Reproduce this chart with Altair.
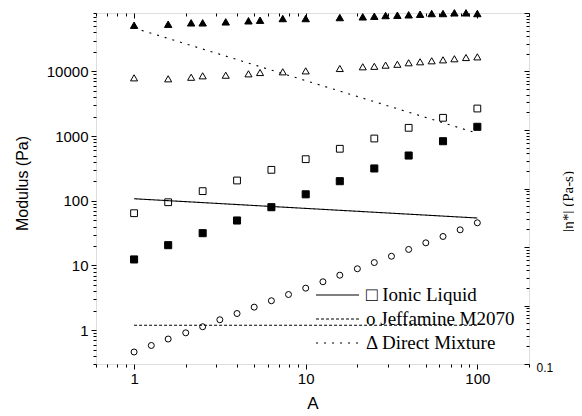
import altair as alt
import pandas as pd

# ---------------- data ----------------
x_circ = [1, 1.26, 1.58, 2.0, 2.51, 3.16, 3.98, 5.01, 6.31, 7.94, 10,
          12.6, 15.8, 20.0, 25.1, 31.6, 39.8, 50.1, 63.1, 79.4, 100]
jeff_mod = [0.46, 0.58, 0.73, 0.91, 1.13, 1.45, 1.81, 2.27, 2.85, 3.56, 4.46,
            5.6, 7.08, 8.9, 11.1, 13.9, 17.7, 22.4, 28.1, 35.6, 45.7]

x_sq = [1, 1.58, 2.51, 3.98, 6.31, 10, 15.8, 25.1, 39.8, 63.1, 100]
il_open = [64.3, 95, 141, 206, 301, 440, 637, 918, 1343, 1918, 2670]
il_filled = [12.4, 20.6, 31.6, 49.6, 79.6, 126, 201, 316, 501, 834, 1392]

x_tri = [1, 1.58, 2.15, 2.51, 3.42, 4.64, 5.42, 7.35, 10, 15.8, 21.5,
         25.1, 29.2, 34.2, 39.8, 46.4, 54.2, 63.1, 73.5, 85.9, 100]
dm_open = [7960, 7690, 8130, 8550, 8740, 9180, 9620, 9860, 10200, 11100, 11800,
           12000, 12500, 12900, 13600, 14100, 14600, 15100, 15700, 16400, 16800]
dm_filled = [51800, 53700, 56400, 56400, 58400, 60600, 61900, 65700, 65700, 68100, 69800,
             71300, 73100, 73900, 75000, 76600, 78500, 78500, 80500, 80500, 78500]

x_line = [1, 10, 100]
il_visc = [66.8, 45.7, 31.3]
jeff_visc = [0.46, 0.46, 0.46]
dm_visc = [55400, 6980, 879]

legend_labels = ["\u25a1 Ionic Liquid", "o Jeffamine M2070", "\u0394 Direct Mixture"]

x_major = [1, 10, 100]
x_minor = [0.6, 0.7, 0.8, 0.9, 2, 3, 4, 5, 6, 7, 8, 9,
           20, 30, 40, 50, 60, 70, 80, 90, 200]
yl_major = [1, 10, 100, 1000, 10000]
yl_minor = [0.3, 0.4, 0.5, 0.6, 0.7, 0.8, 0.9, 2, 3, 4, 5, 6, 7, 8, 9,
            20, 30, 40, 50, 60, 70, 80, 90, 200, 300, 400, 500, 600, 700, 800, 900,
            2000, 3000, 4000, 5000, 6000, 7000, 8000, 9000, 20000, 30000, 40000, 50000,
            60000, 70000, 80000]
yr_major = [0.1, 1, 10, 100, 1000, 10000, 100000]
yr_minor = [m * d for d in [0.1, 1, 10, 100, 1000, 10000] for m in range(2, 10)]

# ---------------- tables ----------------
rows = []
for x, y in zip(x_circ, jeff_mod):
    rows.append(dict(x=x, y=y, shape="circle", fill="transparent", size=36))
for x, y in zip(x_sq, il_open):
    rows.append(dict(x=x, y=y, shape="square", fill="transparent", size=46))
for x, y in zip(x_sq, il_filled):
    rows.append(dict(x=x, y=y, shape="square", fill="black", size=50))
for x, y in zip(x_tri, dm_open):
    rows.append(dict(x=x, y=y, shape="triangle-up", fill="transparent", size=50))
for x, y in zip(x_tri, dm_filled):
    rows.append(dict(x=x, y=y, shape="triangle-up", fill="black", size=55))
pts_df = pd.DataFrame(rows)

lrows = []
for lab, vals in zip(legend_labels, [il_visc, jeff_visc, dm_visc]):
    for x, v in zip(x_line, vals):
        lrows.append(dict(x=x, v=v, series=lab))
line_df = pd.DataFrame(lrows)

XS = alt.Scale(type="log", domain=[0.6, 200], nice=False)
YL = alt.Scale(type="log", domain=[0.3, 80000], nice=False)
YR = alt.Scale(type="log", domain=[0.1, 100000], nice=False)

SANS = "Liberation Sans"
SERIF = "Liberation Serif"

pts = alt.Chart(pts_df).mark_point(filled=True, stroke="black", strokeWidth=1, opacity=1).encode(
    x=alt.X("x:Q", scale=XS, axis=alt.Axis(
        orient="bottom", values=x_major, format="d", tickSize=5, tickColor="black",
        labelFont=SANS, labelFontSize=15, labelColor="black", labelPadding=2, labelFlush=False,
        domain=False, grid=False, title="A", titleFont=SANS, titleFontSize=17,
        titleFontWeight="normal", titleColor="black", titleBaseline="middle", titleY=39)),
    y=alt.Y("y:Q", scale=YL, axis=alt.Axis(
        orient="left", values=yl_major, format="d", tickSize=5, tickColor="black",
        labelFont=SANS, labelFontSize=15, labelColor="black", labelPadding=3, labelFlush=False,
        domain=False, grid=False, title="Modulus (Pa)", titleFont=SANS, titleFontSize=16,
        titleFontWeight="normal", titleColor="black", titleAngle=270, titleAlign="center",
        titleBaseline="middle", titleX=-74, titleY=170)),
    shape=alt.Shape("shape:N", scale=None),
    fill=alt.Fill("fill:N", scale=None),
    size=alt.Size("size:Q", scale=None),
)

pts_minor = alt.Chart(pts_df).mark_point(opacity=0).encode(
    x=alt.X("x:Q", scale=XS, axis=alt.Axis(
        orient="bottom", values=x_minor, tickSize=3, tickColor="black", labels=False,
        domain=False, grid=False, title="")),
    y=alt.Y("y:Q", scale=YL, axis=alt.Axis(
        orient="left", values=yl_minor, tickSize=3, tickColor="black", labels=False,
        domain=False, grid=False, title="")),
)

lines = alt.Chart(line_df).mark_line(color="black", strokeWidth=1.1).encode(
    x=alt.X("x:Q", scale=XS, axis=alt.Axis(
        orient="top", values=x_major, tickSize=5, offset=-5, tickColor="black", labels=False,
        domain=False, grid=False, title="")),
    y=alt.Y("v:Q", scale=YR, axis=alt.Axis(
        orient="right", values=yr_major, tickSize=5, offset=-5, tickColor="black",
        labelExpr="datum.value == 0.1 ? '0.1' : ''", labelFont=SANS, labelFontSize=12,
        labelColor="black", labelPadding=7, labelFlush=False, labelOffset=3,
        domain=False, grid=False, title="|\u03b7*| (Pa-s)", titleFont=SERIF, titleFontSize=15,
        titleFontWeight="normal", titleColor="black", titleAngle=270, titleAlign="center",
        titleBaseline="middle", titleX=43, titleY=188)),
    strokeDash=alt.StrokeDash("series:N", scale=alt.Scale(
        domain=legend_labels, range=[[1, 0], [3, 2], [2, 6]]), legend=alt.Legend(
        orient="none", legendX=219, legendY=271, title=None, symbolType="stroke",
        symbolSize=1849, symbolStrokeWidth=1.2, symbolStrokeColor="black",
        labelFont=SERIF, labelFontSize=19, labelColor="black", labelOffset=6,
        clipHeight=22, rowPadding=2, padding=0)),
)

lines_minor = alt.Chart(line_df).mark_point(opacity=0).encode(
    x=alt.X("x:Q", scale=XS, axis=alt.Axis(
        orient="top", values=x_minor, tickSize=3, offset=-3, tickColor="black", labels=False,
        domain=False, grid=False, title="")),
    y=alt.Y("v:Q", scale=YR, axis=alt.Axis(
        orient="right", values=yr_minor, tickSize=3, offset=-3, tickColor="black", labels=False,
        domain=False, grid=False, title="")),
)

chart = alt.layer(pts, pts_minor, lines, lines_minor).resolve_scale(
    y="independent"
).resolve_axis(
    x="independent", y="independent"
).properties(
    width=433, height=351,
    autosize=alt.AutoSizeParams(type="none"),
    padding={"left": 88, "top": 5, "right": 45, "bottom": 48},
).configure_view(stroke="black", strokeWidth=1).configure(background="white")

chart.save("out.html", embed_options={"renderer": "svg", "actions": False})
